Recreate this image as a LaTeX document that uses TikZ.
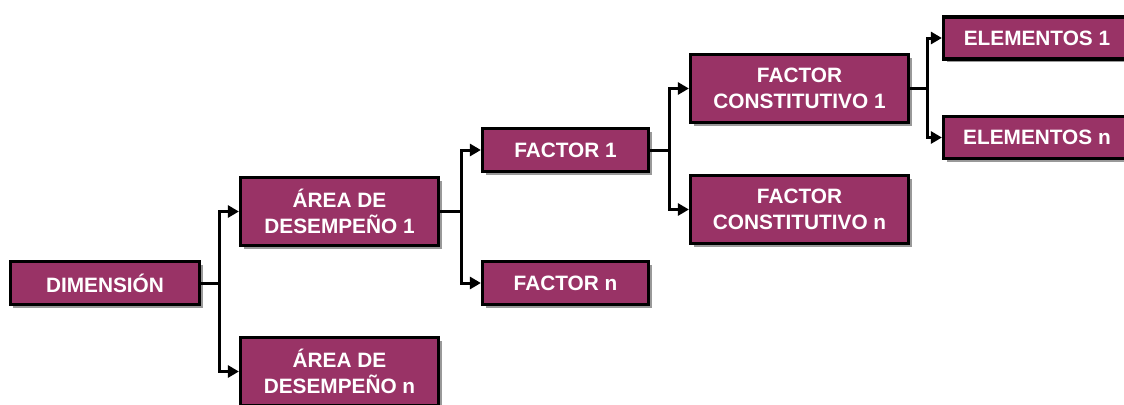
\documentclass[tikz,border=0pt]{standalone}
\usepackage{fontspec}
\setmainfont{Liberation Sans}
\usetikzlibrary{arrows.meta,shadows}
\definecolor{boxfill}{RGB}{153,51,102}
\begin{document}
\begin{tikzpicture}[x=1bp,y=-1bp,
  box/.style={draw=black, line width=3.2bp, fill=boxfill, text=white,
    font=\fontsize{20.8bp}{26bp}\selectfont\bfseries, align=center,
    inner sep=0pt, rectangle,
    drop shadow={opacity=1, fill=black!40, shadow xshift=3bp, shadow yshift=-3bp}},
  conn/.style={line width=3bp, line cap=rect},
  arr/.style={line width=3bp, -{Triangle[length=11bp,width=12bp]}}
]
\useasboundingbox (0,0) rectangle (1124,404);
\node[box, minimum width=189bp, minimum height=43bp] (dim) at (105,283) {DIMENSIÓN};
\node[box, minimum width=198bp, minimum height=68bp] (a1) at (339.5,211.5) {ÁREA DE\\DESEMPEÑO 1};
\node[box, minimum width=198bp, minimum height=68bp] (an) at (339.5,371.5) {ÁREA DE\\DESEMPEÑO n};
\node[box, minimum width=166bp, minimum height=43bp] (f1) at (565.5,150) {FACTOR 1};
\node[box, minimum width=166bp, minimum height=43bp] (fn) at (565.5,283) {FACTOR n};
\node[box, minimum width=218bp, minimum height=68bp] (c1) at (799.5,88.5) {FACTOR\\CONSTITUTIVO 1};
\node[box, minimum width=218bp, minimum height=68bp] (cn) at (799.5,209.5) {FACTOR\\CONSTITUTIVO n};
\node[box, minimum width=187bp, minimum height=42bp] (e1) at (1037,38) {ELEMENTOS 1};
\node[box, minimum width=187bp, minimum height=42bp] (en) at (1037,137.5) {ELEMENTOS n};

\coordinate (j1) at (219,283);
\coordinate (j2) at (461,211.5);
\coordinate (j3) at (669,150);
\coordinate (j4) at (927,88.5);

\draw[conn] (dim.east) -- (j1);
\draw[arr] (j1) |- (a1.west);
\draw[arr] (j1) |- (an.west);
\draw[conn] (a1.east) -- (j2);
\draw[arr] (j2) |- (f1.west);
\draw[arr] (j2) |- (fn.west);
\draw[conn] (f1.east) -- (j3);
\draw[arr] (j3) |- (c1.west);
\draw[arr] (j3) |- (cn.west);
\draw[conn] (c1.east) -- (j4);
\draw[arr] (j4) |- (e1.west);
\draw[arr] (j4) |- (en.west);
\end{tikzpicture}
\end{document}
